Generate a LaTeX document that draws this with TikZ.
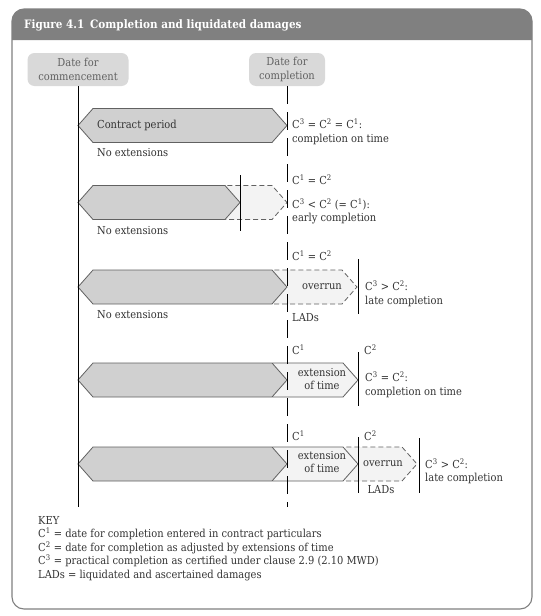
\documentclass[tikz,border=0pt]{standalone}
\usepackage{fontspec}
\IfFontExistsTF{DejaVu Serif Condensed}{\setmainfont{DejaVu Serif Condensed}}{\setmainfont{DejaVu Serif}}
\usetikzlibrary{positioning, calc}
\definecolor{headgray}{HTML}{808080}
\definecolor{boxgray}{HTML}{D9D9D9}
\definecolor{bargray}{HTML}{D0D0D0}
\definecolor{lightbar}{HTML}{F3F3F3}
\definecolor{inkgray}{HTML}{333333}
\tikzstyle{datebox} = [rectangle, rounded corners=7pt, fill=boxgray, text=black!62, align=center, minimum width=101pt, minimum height=33pt, inner sep=2pt]
\tikzstyle{bar} = [draw=black!62, fill=bargray, line width=0.8pt]
\tikzstyle{extbar} = [draw=black!62, fill=lightbar, line width=0.8pt]
\tikzstyle{runbar} = [draw=black!62, fill=lightbar, dash pattern=on 5pt off 3pt, line width=0.8pt]
\tikzstyle{cline} = [line width=0.9pt, black]
\tikzstyle{txt} = [inner sep=0pt, anchor=west, align=left, text=inkgray]
\tikzstyle{ctxt} = [inner sep=0pt, align=center, text=inkgray]
\newcommand{\Cn}[1]{C\textsuperscript{#1}}
% hexagonal bar: style, left tip, right tip, middle
\newcommand{\hexbar}[4][bar]{\path[#1] (#2,#4) -- ++(15,-17) -- (#3-15,#4-17) -- (#3,#4) -- (#3-15,#4+17) -- (#2+15,#4+17) -- cycle;}

\begin{document}
\begin{tikzpicture}[x=1pt, y=-1pt, every node/.style={font=\fontsize{11}{13.5}\selectfont}]
      \useasboundingbox (0,0) rectangle (541,616);
      % Frame and heading
      \fill[white, rounded corners=12pt] (12,9) rectangle (532,609);
      \fill[headgray] (12,40) [rounded corners=12pt] -- (12,9) -- (532,9) [sharp corners] -- (532,40) -- cycle;
      \draw[black!50, line width=1.1pt, rounded corners=12pt] (12,9) rectangle (532,609);
      \node[txt, text=white, font=\fontsize{11.6}{14}\selectfont\bfseries] (title) at (24,25) {Figure 4.1\enspace Completion and liquidated damages};
      
      % Date boxes
      \node[datebox] (comm) at (78,69.5) {Date for\\commencement};
      \node[datebox, minimum width=76pt] (compl) at (287,69.5) {Date for\\completion};
      \coordinate (commEnd) at (78,507);
      \coordinate (complEnd) at (287,507);
      
      % Row 1
      \hexbar{78}{287}{125.5}
      \node[txt] (r1bar) at (97,125.5) {Contract period};
      \node[txt] (r1ext) at (97,153) {No extensions};
      \node[txt] (r1res) at (292,132) {\Cn{3} = \Cn{2} = \Cn{1}:\\completion on time};
      
      % Row 2
      \hexbar[runbar]{211}{287}{202.5}
      \hexbar{78}{240}{202.5}
      \coordinate (r2top) at (240,175);
      \coordinate (r2bot) at (240,231);
      \draw[cline] (r2top) -- (r2bot);
      \node[txt] (r2c) at (292,180) {\Cn{1} = \Cn{2}};
      \node[txt] (r2res) at (292,211.5) {\Cn{3} < \Cn{2} (= \Cn{1}):\\early completion};
      \node[txt] (r2ext) at (97,231) {No extensions};
      
      % Row 3
      \hexbar[runbar]{258}{357}{287}
      \hexbar{78}{287}{287}
      \coordinate (r3top) at (358,259);
      \coordinate (r3bot) at (358,314);
      \draw[cline] (r3top) -- (r3bot);
      \node[txt] (r3c) at (292,256) {\Cn{1} = \Cn{2}};
      \node[ctxt] (r3run) at (322,287) {overrun};
      \node[txt] (r3res) at (365,294) {\Cn{3} > \Cn{2}:\\late completion};
      \node[txt] (r3ext) at (97,315) {No extensions};
      \node[txt] (r3lad) at (292,318) {LADs};
      
      % Row 4
      \hexbar[extbar]{258}{358}{380}
      \hexbar{78}{287}{380}
      \coordinate (r4top) at (358,352);
      \coordinate (r4bot) at (358,406);
      \draw[cline] (r4top) -- (r4bot);
      \node[txt] (r4c1) at (292,350) {\Cn{1}};
      \node[txt] (r4c2) at (364,350) {\Cn{2}};
      \node[ctxt] (r4eot) at (322,379) {extension\\of time};
      \node[txt] (r4res) at (365,385) {\Cn{3} = \Cn{2}:\\completion on time};
      
      % Row 5
      \hexbar[runbar]{330}{417}{464}
      \hexbar[extbar]{258}{358}{464}
      \hexbar{78}{287}{464}
      \coordinate (r5top) at (358,437);
      \coordinate (r5bot) at (358,493);
      \coordinate (r5top3) at (419,438);
      \coordinate (r5bot3) at (419,493);
      \draw[cline] (r5top) -- (r5bot);
      \draw[cline] (r5top3) -- (r5bot3);
      \node[txt] (r5c1) at (292,436) {\Cn{1}};
      \node[txt] (r5c2) at (364,436) {\Cn{2}};
      \node[ctxt] (r5eot) at (322,462) {extension\\of time};
      \node[ctxt] (r5run) at (383,464) {overrun};
      \node[ctxt] (r5lad) at (381,490) {LADs};
      \node[txt] (r5res) at (425,471.5) {\Cn{3} > \Cn{2}:\\late completion};
      
      % Time lines
      \draw[cline] (comm) -- (commEnd);
      \draw[cline, dash pattern=on 18pt off 8pt] (compl) -- (complEnd);
      
      % Key
      \node[txt, anchor=north west] (key) at (38,516) {KEY\\\Cn{1} = date for completion entered in contract particulars\\\Cn{2} = date for completion as adjusted by extensions of time\\\Cn{3} = practical completion as certified under clause 2.9 (2.10 MWD)\\LADs = liquidated and ascertained damages};
    \end{tikzpicture}
\end{document}
